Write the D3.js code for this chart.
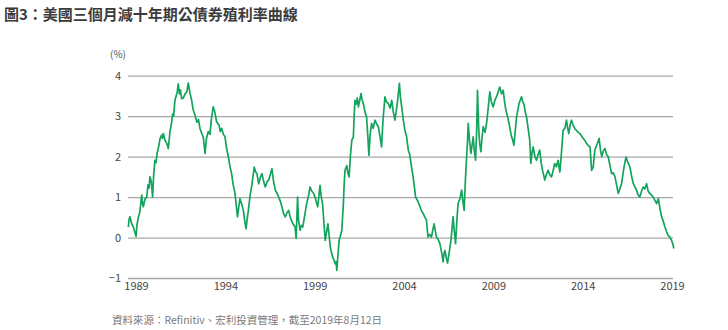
<!DOCTYPE html>
<html>
<head>
<meta charset="utf-8">
<script src="https://cdn.jsdelivr.net/npm/d3@7"></script>
<style>
  html, body { margin: 0; padding: 0; background: #fff; }
  svg { display: block; }
</style>
</head>
<body>
<svg id="chart" width="728" height="330"></svg>
<script>
// ---- data (decimal year, 10Y minus 3M spread in %) ----
const years = [
  1989.02,1989.06,1989.11,1989.20,1989.30,1989.37,1989.45,1989.50,1989.58,1989.66,1989.72,1989.77,1989.82,1989.86,1989.95,
  1990.05,1990.12,1990.18,1990.23,1990.30,1990.38,1990.44,1990.51,1990.57,1990.64,1990.72,1990.80,1990.89,1990.93,1990.98,
  1991.08,1991.18,1991.26,1991.35,1991.45,1991.50,1991.56,1991.63,1991.70,1991.76,1991.82,1991.88,1991.94,
  1992.01,1992.10,1992.20,1992.30,1992.38,1992.47,1992.57,1992.66,1992.76,1992.86,1992.95,
  1993.04,1993.13,1993.22,1993.32,1993.40,1993.50,1993.60,1993.68,1993.78,1993.87,1993.97,
  1994.10,1994.18,1994.25,1994.35,1994.44,1994.53,1994.63,1994.72,1994.81,1994.90,
  1995.00,1995.07,1995.14,1995.21,1995.28,1995.38,1995.47,1995.55,1995.62,1995.68,1995.75,1995.85,1995.96,
  1996.02,1996.08,1996.16,1996.23,1996.33,1996.42,1996.51,1996.60,1996.70,1996.80,1996.89,1996.98,
  1997.07,1997.16,1997.26,1997.35,1997.45,1997.54,1997.63,1997.72,1997.82,1997.92,
  1998.01,1998.10,1998.19,1998.28,1998.37,1998.43,1998.47,1998.51,1998.56,1998.65,1998.72,1998.80,1998.91,
  1999.02,1999.11,1999.21,1999.30,1999.40,1999.49,1999.56,1999.64,1999.71,1999.77,1999.84,1999.91,1999.98,
  2000.06,2000.14,2000.21,2000.28,2000.34,2000.40,2000.47,2000.55,2000.62,2000.67,2000.71,2000.77,2000.84,2000.92,2000.99,
  2001.08,2001.12,2001.17,2001.27,2001.33,2001.40,2001.47,2001.55,2001.64,2001.68,2001.73,2001.80,2001.86,2001.92,
  2002.00,2002.07,2002.13,2002.20,2002.29,2002.38,2002.45,2002.51,2002.58,2002.66,2002.75,2002.85,2002.95,
  2003.04,2003.13,2003.22,2003.30,2003.41,2003.50,2003.60,2003.70,2003.79,2003.88,2003.97,
  2004.05,2004.12,2004.22,2004.28,2004.35,2004.44,2004.53,2004.62,2004.72,2004.80,2004.90,2004.99,
  2005.06,2005.13,2005.25,2005.38,2005.47,2005.56,2005.65,2005.74,2005.78,2005.83,2005.92,
  2006.02,2006.10,2006.17,2006.24,2006.30,2006.40,2006.49,2006.58,2006.67,2006.72,2006.77,2006.85,2006.92,
  2007.02,2007.11,2007.17,2007.23,2007.30,2007.37,2007.44,2007.51,2007.61,2007.71,2007.78,2007.85,2007.92,2007.99,
  2008.04,2008.08,2008.16,2008.23,2008.30,2008.36,2008.42,2008.49,2008.55,2008.60,2008.64,2008.67,2008.73,2008.79,2008.86,2008.92,
  2009.02,2009.11,2009.20,2009.29,2009.38,2009.48,2009.58,2009.67,2009.76,2009.85,2009.95,
  2010.04,2010.12,2010.19,2010.28,2010.37,2010.44,2010.51,2010.58,2010.64,2010.72,2010.79,2010.86,2010.93,
  2011.00,2011.07,2011.14,2011.20,2011.28,2011.35,2011.44,2011.53,2011.59,2011.66,2011.72,2011.82,2011.91,
  2012.00,2012.09,2012.17,2012.25,2012.31,2012.37,2012.46,2012.56,2012.66,2012.75,2012.84,2012.93,
  2013.02,2013.12,2013.17,2013.22,2013.31,2013.40,2013.50,2013.59,2013.66,2013.72,2013.80,2013.87,2013.96,
  2014.06,2014.20,2014.34,2014.48,2014.62,2014.72,2014.81,2014.91,
  2015.00,2015.09,2015.18,2015.30,2015.42,2015.50,2015.57,2015.66,2015.75,2015.84,2015.93,
  2016.02,2016.12,2016.22,2016.31,2016.40,2016.49,2016.58,2016.68,2016.80,2016.93,
  2017.04,2017.15,2017.25,2017.34,2017.43,2017.52,2017.61,2017.70,2017.80,2017.89,2017.98,
  2018.08,2018.17,2018.26,2018.36,2018.45,2018.55,2018.65,2018.74,2018.84,2018.93,
  2019.02,2019.11,2019.20,2019.29,2019.38,2019.48,2019.55,2019.61
];
const spread = [
  0.26,0.45,0.51,0.35,0.26,0.15,0.03,0.30,0.50,0.62,0.85,1.05,0.82,0.76,0.95,
  1.00,1.30,1.22,1.50,1.40,1.00,1.55,1.91,1.85,2.10,2.25,2.45,2.53,2.45,2.57,
  2.40,2.32,2.20,2.60,2.86,3.05,3.00,3.39,3.50,3.60,3.80,3.55,3.65,
  3.43,3.45,3.55,3.60,3.82,3.58,3.39,3.15,3.02,2.85,2.92,
  2.69,2.58,2.49,2.08,2.45,2.62,2.55,2.95,3.23,3.10,2.86,
  2.78,2.62,2.70,2.55,2.49,2.20,1.99,1.75,1.58,1.30,
  1.09,0.80,0.51,0.75,0.96,0.82,0.67,0.40,0.22,0.45,0.67,1.05,1.33,
  1.55,1.74,1.62,1.58,1.33,1.48,1.58,1.40,1.25,1.38,1.42,1.55,
  1.70,1.40,1.17,1.10,1.00,0.90,0.76,0.60,0.51,0.62,
  0.67,0.50,0.39,0.32,0.26,-0.02,0.50,1.00,0.45,0.18,0.30,0.26,0.55,
  0.84,1.00,1.25,1.15,1.10,1.00,0.88,0.76,1.05,1.29,1.00,0.84,0.40,
  -0.07,0.15,0.34,0.05,-0.23,-0.35,-0.48,-0.55,-0.65,-0.60,-0.81,-0.45,-0.07,0.05,0.18,
  0.84,1.30,1.66,1.78,1.60,1.50,2.00,2.40,2.49,3.00,3.39,3.30,3.45,3.23,
  3.40,3.56,3.40,3.31,3.10,2.98,2.50,2.03,2.55,2.82,2.70,2.90,2.80,
  2.74,2.50,2.24,2.90,3.48,3.35,3.31,3.20,3.39,3.10,2.90,
  3.15,3.39,3.81,3.45,3.23,2.90,2.65,2.50,2.16,2.05,1.74,1.50,
  1.25,1.00,0.90,0.76,0.65,0.59,0.50,0.43,0.20,0.01,0.08,
  0.01,0.20,0.34,0.15,0.01,-0.05,-0.15,-0.35,-0.60,-0.40,-0.32,-0.50,-0.63,
  -0.35,-0.07,0.20,0.51,0.15,-0.15,0.40,0.84,0.95,1.17,0.90,0.67,1.40,1.99,
  2.40,2.82,2.35,2.08,2.30,2.49,2.15,1.91,2.60,3.64,3.10,2.65,2.30,2.12,2.50,2.74,
  2.60,2.82,3.20,3.60,3.35,3.23,3.40,3.48,3.60,3.72,3.55,
  3.64,3.35,3.15,3.00,2.82,2.65,2.49,2.40,2.28,2.65,2.98,3.15,3.31,
  3.40,3.48,3.35,3.31,3.10,2.98,2.70,2.40,1.83,2.10,2.24,2.00,1.91,
  2.05,2.16,1.85,1.66,1.55,1.42,1.55,1.66,1.55,1.50,1.65,1.83,
  1.75,1.91,1.75,1.62,2.10,2.65,2.70,2.90,2.70,2.57,2.80,2.90,2.78,
  2.69,2.62,2.57,2.48,2.40,2.32,2.28,2.24,
  1.66,1.74,2.16,2.30,2.45,2.15,2.00,2.15,2.20,2.05,2.00,
  1.80,1.58,1.60,1.50,1.30,1.09,1.20,1.33,1.70,1.99,
  1.85,1.74,1.50,1.33,1.25,1.17,1.05,1.00,1.15,1.25,1.20,
  1.33,1.15,1.09,1.05,1.00,0.92,0.84,0.96,0.70,0.51,
  0.40,0.26,0.15,0.05,0.02,-0.07,-0.15,-0.27
];
const yTicks = [4, 3, 2, 1, 0, -1];
const xTickLabels = ["1989", "1994", "1999", "2004", "2009", "2014", "2019"];
const titleText = "圖3：美國三個月減十年期公債券殖利率曲線";
const unitText = "(%)";
const sourceText = "資料來源：Refinitiv、宏利投資管理，截至2019年8月12日";

// ---- layout ----
const svg = d3.select("#chart");
const plot = { left: 128, right: 673, top: 75.7, bottom: 278 };

const x = d3.scaleLinear().domain([1989, 2019.62]).range([plot.left, 674]);
const y = d3.scaleLinear().domain([-1, 4]).range([plot.bottom, plot.top]);
const xLab = d3.scalePoint().domain(xTickLabels).range([136, 672]);

const font = "'Noto Sans CJK TC', 'Noto Sans', sans-serif";

// title
svg.append("text")
  .attr("x", 4).attr("y", 20)
  .attr("font-family", font).attr("font-size", 15).attr("font-weight", 700)
  .attr("fill", "#3b3b3b")
  .text(titleText);

// unit
svg.append("text")
  .attr("x", 110).attr("y", 58)
  .attr("font-family", font).attr("font-size", 10)
  .attr("fill", "#555")
  .text(unitText);

// gridlines + y labels
const yAxis = d3.axisLeft(y).tickValues(yTicks).tickSize(-(plot.right - plot.left)).tickFormat(d3.format("d"));
const gy = svg.append("g").attr("transform", `translate(${plot.left},0)`).call(yAxis);
gy.select(".domain").remove();
gy.selectAll(".tick line").attr("stroke", "#a8a8a8").attr("stroke-width", 1.3);
gy.selectAll(".tick text")
  .attr("x", -7)
  .attr("font-family", font).attr("font-size", 11)
  .attr("fill", "#444");

// x labels
const xAxis = d3.axisBottom(xLab).tickSize(0).tickPadding(0);
const gx = svg.append("g").attr("transform", `translate(0,${plot.bottom + 4})`).call(xAxis);
gx.select(".domain").remove();
gx.selectAll(".tick text")
  .attr("font-family", font).attr("font-size", 11)
  .attr("fill", "#444");

// line
const pts = years.map((yr, i) => [yr, spread[i]]);
const line = d3.line().x(d => x(d[0])).y(d => y(d[1]));
svg.append("path")
  .datum(pts)
  .attr("fill", "none")
  .attr("stroke", "#14a35c")
  .attr("stroke-width", 1.7)
  .attr("stroke-linejoin", "round")
  .attr("d", line);

// source
svg.append("text")
  .attr("x", 112).attr("y", 324)
  .attr("font-family", font).attr("font-size", 10.5)
  .attr("fill", "#7a7a7a")
  .text(sourceText);
</script>
</body>
</html>
